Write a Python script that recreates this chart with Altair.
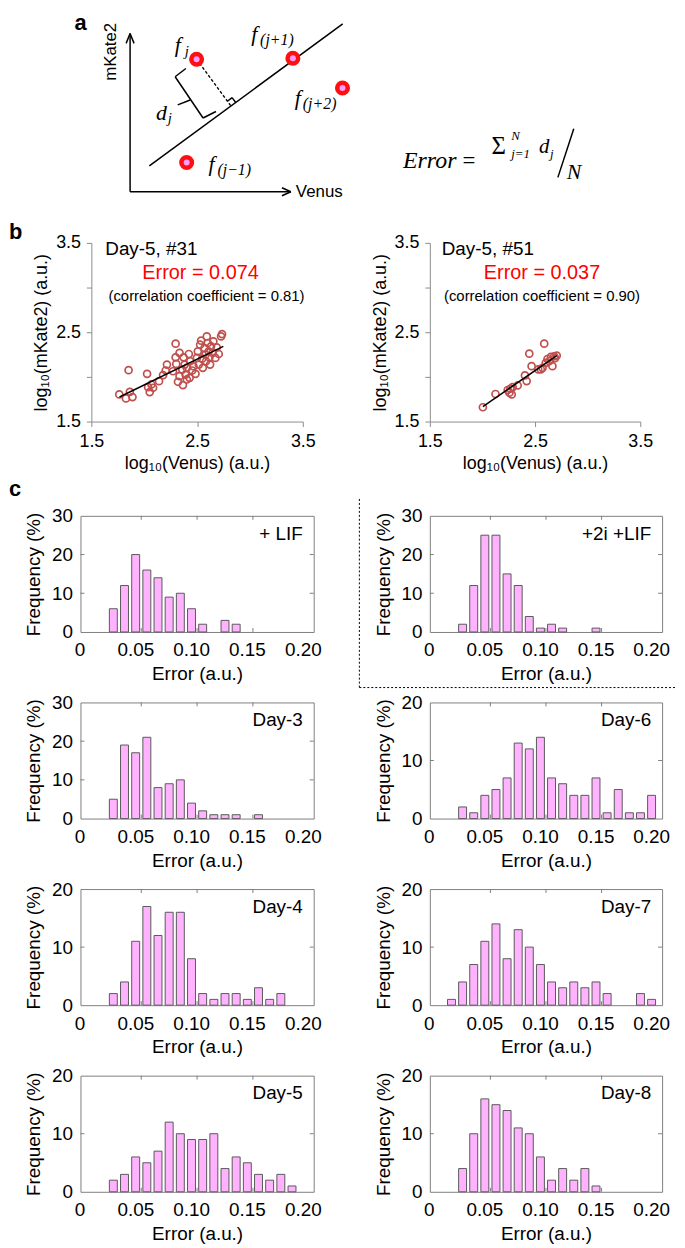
import altair as alt
import pandas as pd

# ------------------------------------------------------------------ data
# panel c : histograms of the fitting error (bin centres, % of cells)
bin_centers = [0.015, 0.025, 0.035, 0.045, 0.055, 0.065, 0.075, 0.085, 0.095,
               0.105, 0.115, 0.125, 0.135, 0.145, 0.155, 0.165, 0.175, 0.185, 0.195]
freq_lif    = [0, 6, 12, 20, 16, 14, 9, 10, 6, 2, 0, 3, 2, 0, 0, 0, 0, 0, 0]
freq_2i_lif = [0, 2, 12, 25, 25, 15, 12, 4, 1, 2, 1, 0, 0, 1, 0, 0, 0, 0, 0]
freq_day3   = [0, 5, 19, 17, 21, 8, 9, 10, 4, 2, 1, 1, 1, 0, 1, 0, 0, 0, 0]
freq_day6   = [0, 2, 1, 4, 5, 7, 13, 12, 14, 7, 6, 4, 4, 7, 1, 5, 1, 1, 4]
freq_day4   = [0, 2, 4, 11, 17, 12, 16, 16, 8, 2, 1, 2, 2, 1, 3, 1, 2, 0, 0]
freq_day7   = [1, 4, 7, 11, 14, 8, 13, 10, 7, 4, 3, 4, 3, 4, 2, 0, 0, 2, 1]
freq_day5   = [0, 2, 3, 6, 5, 7, 12, 10, 9, 9, 10, 4, 6, 5, 3, 2, 3, 1, 0]
freq_day8   = [0, 4, 10, 16, 15, 14, 11, 10, 6, 2, 4, 2, 4, 1, 0, 0, 0, 0, 0]
hist_labels = ["+ LIF", "+2i +LIF", "Day-3", "Day-6", "Day-4", "Day-7", "Day-5", "Day-8"]
hist_series = [freq_lif, freq_2i_lif, freq_day3, freq_day6, freq_day4, freq_day7, freq_day5, freq_day8]
hist_ymax = [30, 30, 30, 20, 20, 20, 20, 20]
err_ticks = [0, 0.05, 0.10, 0.15, 0.20]

# panel b : log10 fluorescence of single cells
s31_venus = [1.764, 1.827, 1.889, 1.864, 1.852, 2.027, 2.037, 2.052, 2.068, 2.084, 2.140, 2.178,
             2.203, 2.215, 2.272, 2.297, 2.297, 2.303, 2.319, 2.334, 2.360, 2.366, 2.372, 2.382,
             2.391, 2.403, 2.422, 2.429, 2.435, 2.454, 2.466, 2.485, 2.498, 2.507, 2.516, 2.529,
             2.538, 2.548, 2.554, 2.570, 2.579, 2.585, 2.592, 2.601, 2.610, 2.617, 2.623, 2.632,
             2.648, 2.654, 2.673, 2.686, 2.705, 2.727, 2.736, 2.403, 2.334]
s31_mkate = [1.804, 1.759, 1.774, 1.833, 2.075, 2.034, 1.885, 1.830, 1.915, 1.878, 1.952, 2.019,
             2.071, 2.138, 2.063, 2.219, 2.372, 2.145, 1.945, 2.008, 2.082, 1.908, 2.219, 2.138,
             2.026, 2.101, 2.256, 1.989, 2.175, 2.071, 2.119, 2.034, 2.212, 2.286, 2.138, 2.360,
             2.405, 2.204, 2.101, 2.323, 2.249, 2.175, 2.453, 2.379, 2.286, 2.219, 2.138, 2.342,
             2.268, 2.398, 2.212, 2.331, 2.256, 2.453, 2.479, 1.971, 2.268]
s31_fit_venus = [1.766, 2.748]
s31_fit_mkate = [1.775, 2.342]

s51_venus = [2.004, 2.124, 2.240, 2.256, 2.265, 2.278, 2.287, 2.335, 2.404, 2.420, 2.445, 2.467,
             2.530, 2.555, 2.571, 2.587, 2.602, 2.618, 2.634, 2.650, 2.665, 2.681, 2.706, 2.690]
s51_mkate = [1.660, 1.808, 1.853, 1.823, 1.867, 1.804, 1.886, 1.904, 2.016, 1.953, 2.260, 2.120,
             2.083, 2.083, 2.100, 2.372, 2.157, 2.200, 2.175, 2.224, 2.120, 2.231, 2.238, 2.210]
s51_fit_venus = [2.004, 2.706]
s51_fit_mkate = [1.667, 2.238]

# panel a : schematic (diagram geometry, page pixels)
schem_segments = [  # x, y, x2, y2
    (130, 187.5, 130, 28), (130, 28, 126, 38), (130, 28, 134, 38),
    (130, 187.5, 292, 187.5), (292, 187.5, 283, 183.5), (292, 187.5, 283, 191.5),
    (149.4, 161.5, 344.2, 18.3),
    (228.0, 96.3, 232.8, 92.7), (232.8, 92.7, 236.4, 97.5),
    (186.2, 63.3, 175.4, 71.6), (175.4, 71.6, 203.5, 113.2), (203.5, 113.2, 216.5, 106.6),
    (190.5, 95, 178, 100),
]
schem_dashed = [(197, 54, 231.6, 101.1)]
schem_points = [(197, 54), (294, 53), (344, 83), (187, 158)]
schem_math = [  # text, x, y(baseline), size
    ("f", 175, 47, 22), ("j", 185, 51, 15),
    ("f", 252, 36, 22), ("(j+1)", 261, 40, 16),
    ("f", 296, 100, 22), ("(j+2)", 304, 104, 16),
    ("f", 209, 167, 22), ("(j\u22121)", 218, 171, 16),
    ("d", 156, 115, 22), ("j", 168, 118, 15),
]
formula_math = [
    ("Error", 405, 164, 24),
    ("N", 514, 135, 13), ("j=1", 514, 153, 13), ("d", 542, 148, 21), ("j", 553, 153, 13),
    ("N", 570, 175, 22),
]
formula_upright = [("=", 465, 164, 23), ("\u03a3", 494, 149, 25)]
formula_segments = [(561, 173, 577, 124)]

# ------------------------------------------------------------------ style
FONT = "Liberation Sans"
SERIF = "Liberation Serif"
BAR_FILL = "#ffb3ff"
BAR_EDGE = "#5a5a5a"
FRAME = "#7f7f7f"
PT = "#c0504d"
HIST_H = 117


def schem_cell(xdom, ydom, w, h, segs, dashed, pts, math, sans=None, bold=None, upright=None):
    xsc = alt.Scale(domain=xdom, nice=False, zero=False)
    ysc = alt.Scale(domain=ydom, nice=False, zero=False)
    layers = []
    sd = pd.DataFrame(segs, columns=["x", "y", "x2", "y2"])
    layers.append(alt.Chart(sd).mark_rule(color="black", strokeWidth=1.5).encode(
        x=alt.X("x:Q", scale=xsc, axis=None), y=alt.Y("y:Q", scale=ysc, axis=None),
        x2="x2:Q", y2="y2:Q"))
    if dashed:
        dd = pd.DataFrame(dashed, columns=["x", "y", "x2", "y2"])
        layers.append(alt.Chart(dd).mark_rule(color="black", strokeWidth=1.3, strokeDash=[3, 2]).encode(
            x=alt.X("x:Q", scale=xsc, axis=None), y=alt.Y("y:Q", scale=ysc, axis=None),
            x2="x2:Q", y2="y2:Q"))
    if pts:
        pd_ = pd.DataFrame(pts, columns=["x", "y"])
        layers.append(alt.Chart(pd_).mark_point(shape="circle", filled=True, color="#ff1010",
                                                 size=230, opacity=1).encode(
            x=alt.X("x:Q", scale=xsc, axis=None), y=alt.Y("y:Q", scale=ysc, axis=None)))
        layers.append(alt.Chart(pd_).mark_point(shape="circle", filled=True, color="#ff9cff",
                                                 size=36, opacity=1).encode(
            x=alt.X("x:Q", scale=xsc, axis=None), y=alt.Y("y:Q", scale=ysc, axis=None)))
    md = pd.DataFrame(math, columns=["t", "x", "y", "fs"])
    layers.append(alt.Chart(md).mark_text(font=SERIF, fontStyle="italic", align="left",
                                          baseline="alphabetic", color="black").encode(
        x=alt.X("x:Q", scale=xsc, axis=None), y=alt.Y("y:Q", scale=ysc, axis=None),
        text="t:N", size=alt.Size("fs:Q", scale=None)))
    if upright:
        ud = pd.DataFrame(upright, columns=["t", "x", "y", "fs"])
        layers.append(alt.Chart(ud).mark_text(font=SERIF, align="left",
                                              baseline="alphabetic", color="black").encode(
            x=alt.X("x:Q", scale=xsc, axis=None), y=alt.Y("y:Q", scale=ysc, axis=None),
            text="t:N", size=alt.Size("fs:Q", scale=None)))
    if sans:
        for t, x, y, ang in sans:
            d = pd.DataFrame({"t": [t], "x": [x], "y": [y]})
            if ang:
                m = alt.Chart(d).mark_text(font=FONT, fontSize=17, angle=ang, align="center",
                                           baseline="middle", color="black")
            else:
                m = alt.Chart(d).mark_text(font=FONT, fontSize=17, align="left",
                                           baseline="middle", color="black")
            layers.append(m.encode(x=alt.X("x:Q", scale=xsc, axis=None),
                                   y=alt.Y("y:Q", scale=ysc, axis=None), text="t:N"))
    if bold:
        t, x, y = bold
        d = pd.DataFrame({"t": [t], "x": [x], "y": [y]})
        layers.append(alt.Chart(d).mark_text(font=FONT, fontSize=22, fontWeight="bold", align="left",
                                             baseline="alphabetic", color="black").encode(
            x=alt.X("x:Q", scale=xsc, axis=None), y=alt.Y("y:Q", scale=ysc, axis=None), text="t:N"))
    return alt.layer(*layers).properties(width=w, height=h)


def scatter_cell(vx, vy, fx, fy, tag, err, corr, width, tpos, panel_letter=None):
    H = 204
    xsc = alt.Scale(domain=[1.5, 3.5], nice=False, zero=False)
    ysc = alt.Scale(domain=[1.5, 3.5], range=[180, 0], nice=False, zero=False)
    xaxis = alt.Axis(values=[1.5, 2.5, 3.5], format=".1f", title="log\u2081\u2080(Venus) (a.u.)",
                     offset=-24, grid=False, domainColor="#8c8c8c", tickColor="#8c8c8c", tickSize=5,
                     labelFontSize=18, titleFontSize=18, labelPadding=6, titlePadding=4,
                     labelFlush=False, labelOverlap=False)
    yaxis = alt.Axis(values=[1.5, 2.0, 2.5, 3.0, 3.5],
                     labelExpr="(datum.value == 2 || datum.value == 3) ? '' : format(datum.value, '.1f')",
                     title="log\u2081\u2080(mKate2) (a.u.)", grid=False, domainColor="#8c8c8c",
                     tickColor="#8c8c8c", tickSize=5, labelFontSize=18, titleFontSize=18,
                     labelPadding=6, titlePadding=5, labelOverlap=False)
    pts = pd.DataFrame({"venus": vx, "mkate": vy})
    fit = pd.DataFrame({"venus": fx, "mkate": fy})
    layers = [
        alt.Chart(pts).mark_point(shape="circle", filled=False, color=PT, size=50,
                                  strokeWidth=1.7, opacity=1).encode(
            x=alt.X("venus:Q", scale=xsc, axis=xaxis), y=alt.Y("mkate:Q", scale=ysc, axis=yaxis)),
        alt.Chart(fit).mark_line(color="black", strokeWidth=1.5).encode(
            x=alt.X("venus:Q", scale=xsc, axis=xaxis), y=alt.Y("mkate:Q", scale=ysc, axis=yaxis)),
    ]
    (tx, ty), (ex, ey), (cx, cy) = tpos
    layers.append(alt.Chart(pd.DataFrame({"t": [tag]})).mark_text(
        font=FONT, fontSize=19, align="left", baseline="middle", color="black").encode(
        text="t:N", x=alt.value(tx), y=alt.value(ty)))
    layers.append(alt.Chart(pd.DataFrame({"t": [err]})).mark_text(
        font=FONT, fontSize=20, align="center", baseline="middle", color="#ff0000").encode(
        text="t:N", x=alt.value(ex), y=alt.value(ey)))
    layers.append(alt.Chart(pd.DataFrame({"t": [corr]})).mark_text(
        font=FONT, fontSize=15, align="center", baseline="middle", color="black").encode(
        text="t:N", x=alt.value(cx), y=alt.value(cy)))
    if panel_letter:
        t, x, y = panel_letter
        layers.append(alt.Chart(pd.DataFrame({"t": [t]})).mark_text(
            font=FONT, fontSize=22, fontWeight="bold", align="left", baseline="alphabetic",
            color="black").encode(text="t:N", x=alt.value(x), y=alt.value(y)))
    return alt.layer(*layers).properties(width=width, height=H)


def hist_cell(label, values, ymax, width, extras=()):
    H = HIST_H
    xsc = alt.Scale(domain=[0, 0.2], nice=False, zero=False)
    ysc = alt.Scale(domain=[0, ymax], nice=False, zero=True)
    xaxis = alt.Axis(values=err_ticks,
                     labelExpr="datum.value == 0 ? '0' : format(datum.value, '.2f')",
                     title="Error (a.u.)", domain=False, ticks=False, tickSize=0, grid=False,
                     labelFontSize=19, titleFontSize=19, labelPadding=9, titlePadding=5,
                     labelOffset=-6, labelFlush=False, labelOverlap=False)
    yvals = list(range(0, ymax + 1, 10))
    yaxis = alt.Axis(values=yvals, format="d", title="Frequency (%)", domain=False, ticks=False,
                     tickSize=0, grid=False, labelFontSize=19, titleFontSize=19, labelPadding=8,
                     titlePadding=8, labelOverlap=False)
    df = pd.DataFrame({"err": bin_centers, "freq": values})
    bars = alt.Chart(df).transform_filter("datum.freq > 0").mark_bar(
        size=8, fill=BAR_FILL, stroke=BAR_EDGE, strokeWidth=1).encode(
        x=alt.X("err:Q", scale=xsc, axis=xaxis), y=alt.Y("freq:Q", scale=ysc, axis=yaxis))
    xt = pd.DataFrame({"t": err_ticks[1:-1]})
    yt = pd.DataFrame({"t": yvals[1:-1] if yvals[-1] == ymax else yvals[1:]})
    rule = dict(color=FRAME, strokeWidth=1)
    layers = [bars]
    for y0, y1 in ((0, 4), (H - 4, H)):
        layers.append(alt.Chart(xt).mark_rule(**rule).encode(
            x=alt.X("t:Q", scale=xsc, axis=xaxis), y=alt.value(y0), y2=alt.value(y1)))
    for x0, x1 in ((0, 4), (width - 4, width)):
        layers.append(alt.Chart(yt).mark_rule(**rule).encode(
            y=alt.Y("t:Q", scale=ysc, axis=yaxis), x=alt.value(x0), x2=alt.value(x1)))
    layers.append(alt.Chart(pd.DataFrame({"t": [label]})).mark_text(
        font=FONT, fontSize=19, align="right", baseline="middle", color="black").encode(
        text="t:N", x=alt.value(width - 11), y=alt.value(18)))
    layers.extend(extras)
    return alt.layer(*layers).properties(
        width=width, height=H, view=alt.ViewBackground(stroke=FRAME, strokeWidth=1))


# ------------------------------------------------------------------ cells
a_left = schem_cell([80, 315], [168, 8], 235, 160, schem_segments, schem_dashed, schem_points,
                    schem_math, sans=[("mKate2", 110.5, 46.5, 270), ("Venus", 297, 188, 0)],
                    bold=("a", 74, 25))
a_right = schem_cell([432, 666], [168, 8], 234, 160, formula_segments, None, None, formula_math,
                     upright=formula_upright)

b_left = scatter_cell(s31_venus, s31_mkate, s31_fit_venus, s31_fit_mkate, "Day-5, #31",
                      "Error = 0.074", "(correlation coefficient = 0.81)", 213,
                      ((14, 6), (110, 30), (116, 54)), panel_letter=("b", -83, -4))
b_right = scatter_cell(s51_venus, s51_mkate, s51_fit_venus, s51_fit_mkate, "Day-5, #51",
                       "Error = 0.037", "(correlation coefficient = 0.90)", 212,
                       ((12, 6), (113, 30), (113, 54)))

c_letter = alt.Chart(pd.DataFrame({"t": ["c"]})).mark_text(
    font=FONT, fontSize=22, fontWeight="bold", align="left", baseline="alphabetic",
    color="black").encode(text="t:N", x=alt.value(-72), y=alt.value(-20))
sep_v = alt.Chart(pd.DataFrame({"k": [0]})).mark_rule(
    color="black", strokeWidth=1, strokeDash=[2, 2]).encode(
    x=alt.value(-71), y=alt.value(-17), y2=alt.value(173))
sep_h = alt.Chart(pd.DataFrame({"k": [0]})).mark_rule(
    color="black", strokeWidth=1, strokeDash=[2, 2]).encode(
    x=alt.value(-71), x2=alt.value(248), y=alt.value(173))

cells = [a_left, a_right, b_left, b_right]
for i, (lab, vals, ym) in enumerate(zip(hist_labels, hist_series, hist_ymax)):
    w = 235 if i % 2 == 0 else 234
    extras = ()
    if i == 0:
        extras = (c_letter,)
    elif i == 1:
        extras = (sep_v, sep_h)
    cells.append(hist_cell(lab, vals, ym, w, extras))

chart = alt.concat(
    *cells, columns=2, bounds="flush", align="each", center=True,
    spacing={"row": 71, "column": 117},
).properties(padding=0).configure_view(stroke=None).configure_axis(
    labelFont=FONT, titleFont=FONT, labelColor="black", titleColor="black",
    titleFontWeight="normal",
)

chart.save("out.html", embed_options={"renderer": "svg", "actions": False})
